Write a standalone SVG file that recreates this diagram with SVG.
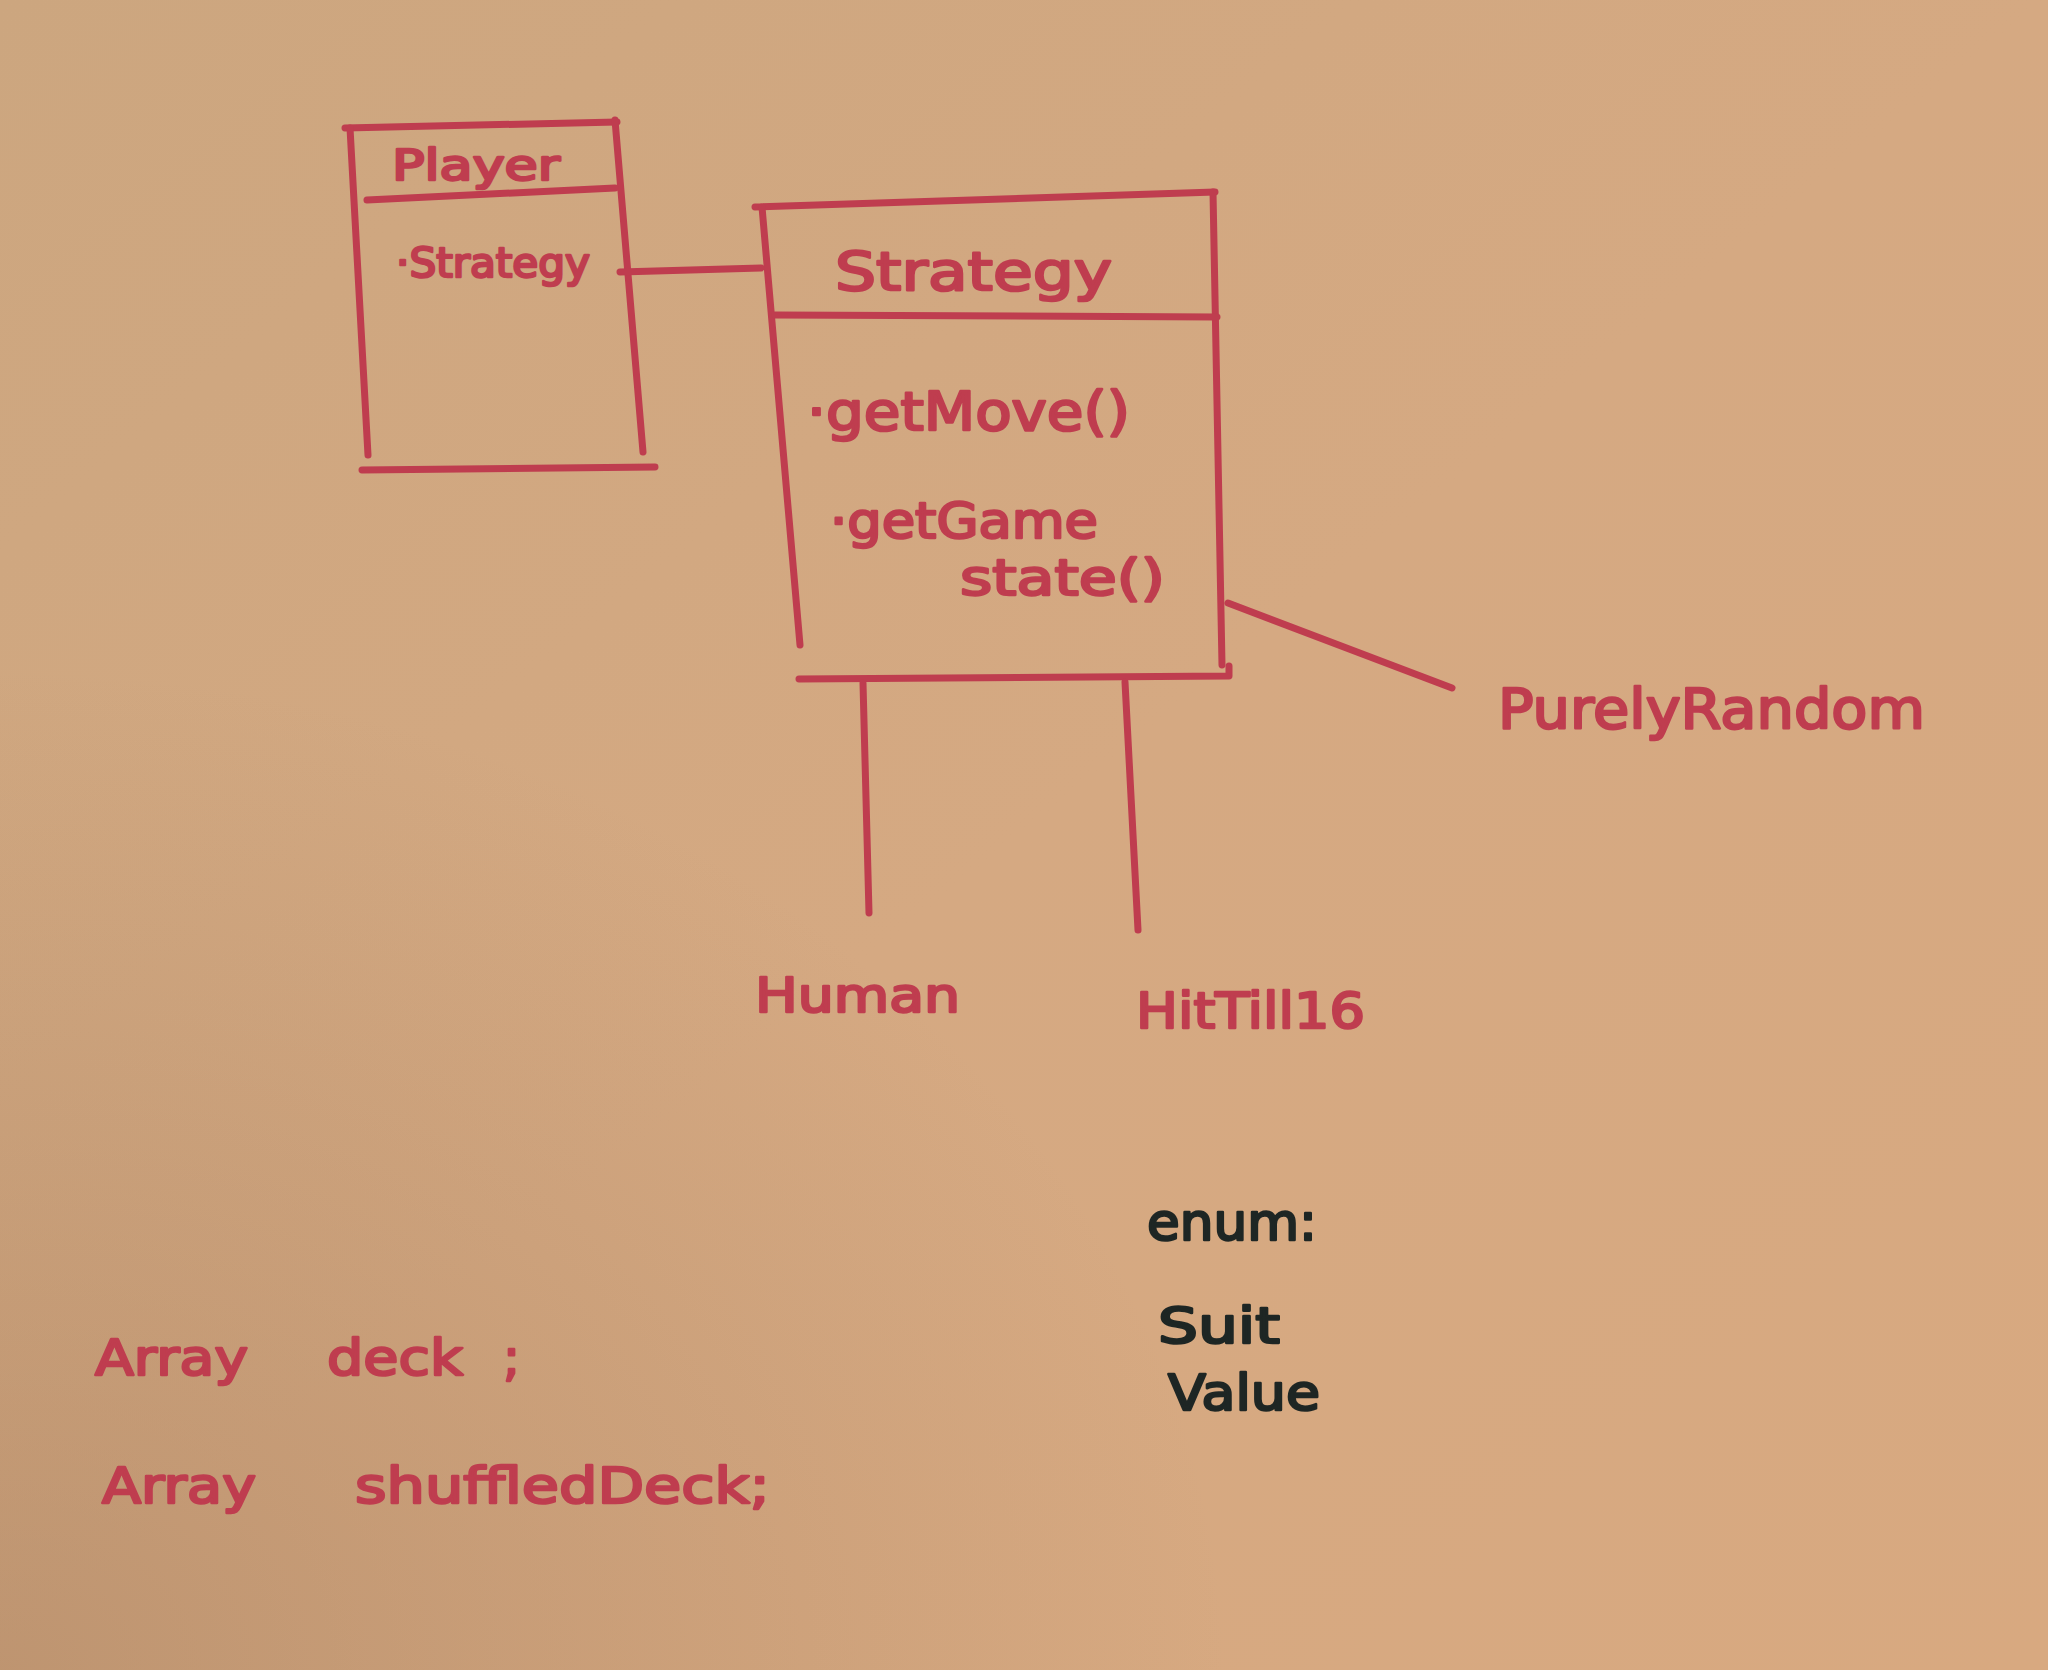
<svg xmlns="http://www.w3.org/2000/svg" width="2048" height="1670" viewBox="0 0 2048 1670">
<defs>
<linearGradient id="bg" x1="0" y1="0" x2="1" y2="1">
<stop offset="0" stop-color="#cca67f"/>
<stop offset="0.5" stop-color="#d5a982"/>
<stop offset="1" stop-color="#d8a980"/>
</linearGradient>
<radialGradient id="shade" cx="0" cy="1" r="0.6">
<stop offset="0" stop-color="#9c7656" stop-opacity="0.4"/>
<stop offset="1" stop-color="#9c7656" stop-opacity="0"/>
</radialGradient>
<style>
.ln{fill:none;stroke:#bf3d4f;stroke-width:7;stroke-linecap:round;stroke-linejoin:round}
.t{font-family:"DejaVu Sans","Liberation Sans",sans-serif;fill:#bf3d4f;stroke:#bf3d4f;stroke-width:2.5;stroke-linejoin:round}
.k{font-family:"DejaVu Sans","Liberation Sans",sans-serif;fill:#1e2624;stroke:#1e2624;stroke-width:2.5;stroke-linejoin:round}
</style>
</defs>
<rect x="0" y="0" width="2048" height="1670" fill="url(#bg)"/>
<rect x="0" y="0" width="2048" height="1670" fill="url(#shade)"/>

<g id="player">
<path class="ln" d="M345,128 L617,122"/>
<path class="ln" d="M350,128 L368,455"/>
<path class="ln" d="M615,120 L643,452"/>
<path class="ln" d="M367,200 L615,188"/>
<path class="ln" d="M362,470 L655,467"/>
<text class="t" x="392" y="180" font-size="42" textLength="168" lengthAdjust="spacingAndGlyphs">Player</text>
<text class="t" x="396" y="277" font-size="40" textLength="194" lengthAdjust="spacingAndGlyphs">·Strategy</text>
</g>

<g id="strategy">
<path class="ln" d="M755,207 L1215,192"/>
<path class="ln" d="M762,207 L800,645"/>
<path class="ln" d="M1213,192 L1222,665"/>
<path class="ln" d="M775,315 L1217,317"/>
<path class="ln" d="M799,679 L1229,676 L1229,666"/>
<text class="t" x="835" y="290" font-size="54" textLength="277" lengthAdjust="spacingAndGlyphs">Strategy</text>
<text class="t" x="807" y="430" font-size="54" textLength="323" lengthAdjust="spacingAndGlyphs">·getMove()</text>
<text class="t" x="830" y="538" font-size="50" textLength="268" lengthAdjust="spacingAndGlyphs">·getGame</text>
<text class="t" x="960" y="595" font-size="50" textLength="205" lengthAdjust="spacingAndGlyphs">state()</text>
</g>

<g id="connectors">
<path class="ln" d="M620,272 L761,268"/>
<path class="ln" d="M1228,603 L1452,688"/>
<path class="ln" d="M863,683 L869,913"/>
<path class="ln" d="M1125,682 L1138,930"/>
</g>

<g id="purelyrandom">
<text class="t" x="1498" y="728" font-size="56" textLength="427" lengthAdjust="spacingAndGlyphs">PurelyRandom</text>
</g>
<g id="human">
<text class="t" x="755" y="1012" font-size="48" textLength="205" lengthAdjust="spacingAndGlyphs">Human</text>
</g>
<g id="hittill16">
<text class="t" x="1136" y="1028" font-size="50" textLength="229" lengthAdjust="spacingAndGlyphs">HitTill16</text>
</g>

<g id="enum">
<text class="k" x="1147" y="1240" font-size="52" textLength="170" lengthAdjust="spacingAndGlyphs">enum:</text>
<text class="k" x="1158" y="1343" font-size="50" textLength="122" lengthAdjust="spacingAndGlyphs">Suit</text>
<text class="k" x="1168" y="1410" font-size="50" textLength="152" lengthAdjust="spacingAndGlyphs">Value</text>
</g>

<g id="arrays">
<text class="t" font-size="50" y="1375"><tspan x="95" textLength="153" lengthAdjust="spacingAndGlyphs">Array</tspan><tspan x="327" textLength="136" lengthAdjust="spacingAndGlyphs">deck</tspan><tspan x="503" textLength="17" lengthAdjust="spacingAndGlyphs">;</tspan></text>
<text class="t" font-size="50" y="1503"><tspan x="102" textLength="154" lengthAdjust="spacingAndGlyphs">Array</tspan><tspan x="355" textLength="415" lengthAdjust="spacingAndGlyphs">shuffledDeck;</tspan></text>
</g>
</svg>
